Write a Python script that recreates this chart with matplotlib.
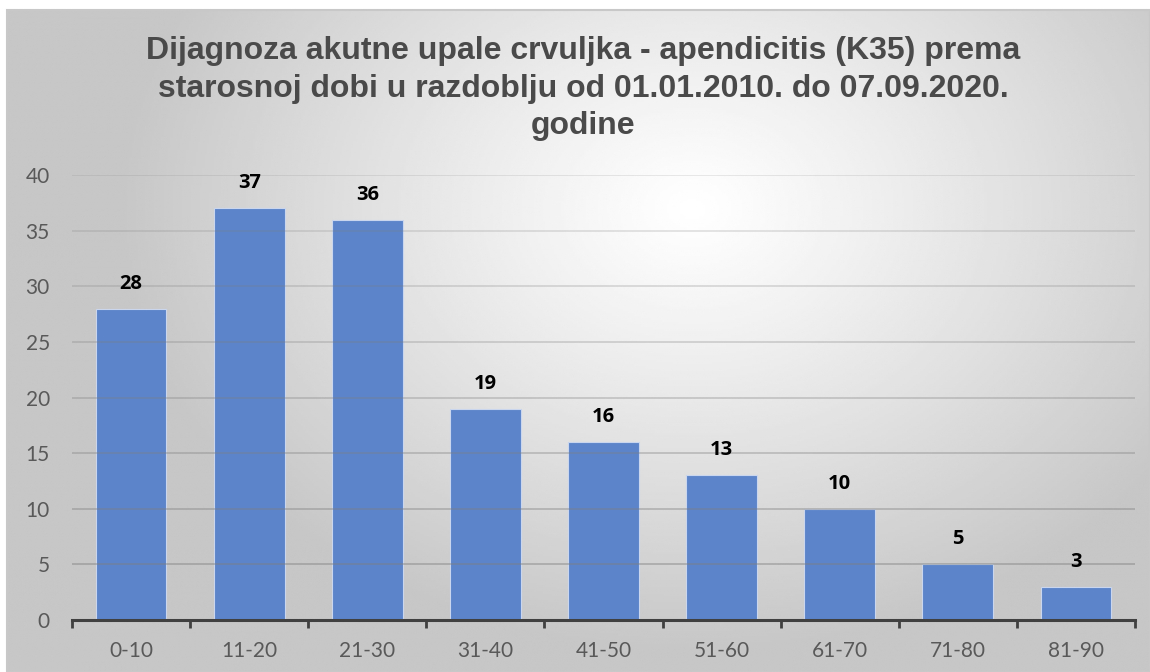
import numpy as np
import matplotlib
matplotlib.use("Agg")
from matplotlib import pyplot as plt
from matplotlib.patches import Rectangle

# data
age_groups = ["0-10", "11-20", "21-30", "31-40", "41-50", "51-60", "61-70", "71-80", "81-90"]
cases = [28, 37, 36, 19, 16, 13, 10, 5, 3]
y_ticks = [0, 5, 10, 15, 20, 25, 30, 35, 40]
title = ("Dijagnoza akutne upale crvuljka - apendicitis (K35) prema\n"
         "starosnoj dobi u razdoblju od 01.01.2010. do 07.09.2020.\n"
         "godine")

W, H = 1150, 672
fig = plt.figure(figsize=(W / 100, H / 100), dpi=100)
fig.patch.set_facecolor("white")

# radial gradient background of the chart area
bg = fig.add_axes([7 / W, 0, 1 - 7 / W, 1 - 10 / H])
yy, xx = np.mgrid[0:1:300j, 0:1:500j]
r = np.hypot(xx - 0.6, (yy - 0.3) * 0.75)
shade = 1.0 - 0.22 * np.clip(r / 0.5, 0, 1) ** 1.1
bg.imshow(shade, cmap="gray", vmin=0, vmax=1, aspect="auto",
          extent=[0, 1, 0, 1], origin="upper", interpolation="bilinear")
bg.set_axis_off()
bg.add_patch(Rectangle((0, 0), 1, 1, transform=bg.transAxes, fill=False,
                       edgecolor="#c8c8c8", lw=1.5, clip_on=False))

ax = fig.add_axes([72 / W, 1 - 620 / H, (1135 - 72) / W, (620 - 175) / H])
ax.set_facecolor("none")
x = np.arange(len(age_groups))
ax.bar(x, cases, width=0.6, color="#5B84CA", edgecolor="#c9d6ee",
       linewidth=0.8, zorder=2)
for xi, v in zip(x, cases):
    ax.annotate(str(v), (xi, v), xytext=(0, 18), textcoords="offset points",
                ha="center", va="center", fontsize=14.5, fontweight="bold",
                family="Open Sans", color="black", zorder=4)

ax.set_xlim(-0.5, len(age_groups) - 0.5)
ax.set_ylim(0, 40)
ax.set_yticks(y_ticks)
# gridlines sit over the bars, fading towards the top
for yt in y_ticks[1:]:
    ax.axhline(yt, color="#808080", lw=1.2, alpha=0.55 - 0.35 * yt / 40, zorder=3)
ax.set_xticks(x)
ax.set_xticklabels(age_groups)
ax.tick_params(axis="x", length=0, pad=15, labelsize=15, labelcolor="#595959")
ax.tick_params(axis="y", length=0, pad=16, labelsize=15, labelcolor="#595959")
for lab in ax.get_xticklabels() + ax.get_yticklabels():
    lab.set_family("Lato")
for s in ["top", "right", "left"]:
    ax.spines[s].set_visible(False)
ax.spines["bottom"].set_color("#404040")
ax.spines["bottom"].set_linewidth(2.2)
ax.spines["bottom"].set_zorder(5)
# boundary tick marks under the axis
ax.set_xticks(np.arange(-0.5, len(age_groups)), minor=True)
ax.tick_params(axis="x", which="minor", length=6, width=2, color="#404040",
               direction="out")

fig.text(0.507, 1 - 36 / H, title, ha="center", va="top", fontsize=23,
         fontweight="bold", family="Liberation Sans", color="#4a4a4a",
         linespacing=1.33)

fig.savefig("out.png", dpi=100)
